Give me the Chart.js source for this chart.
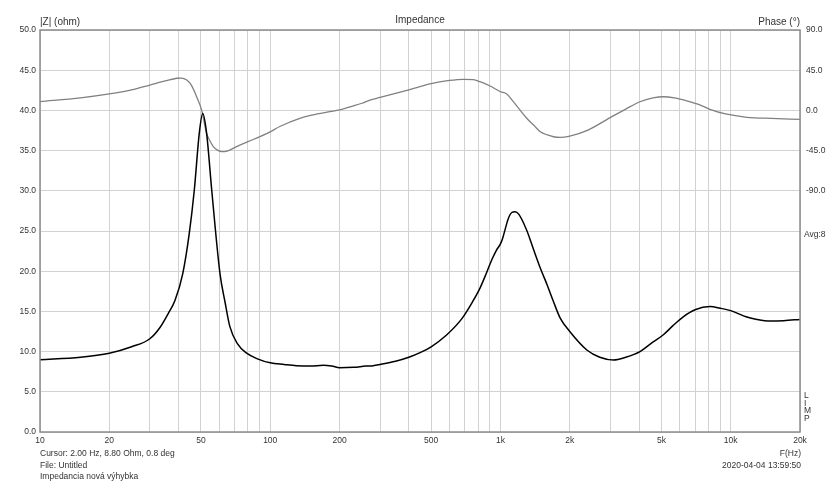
<!DOCTYPE html>
<html>
<head>
<meta charset="utf-8">
<script src="https://cdn.jsdelivr.net/npm/chart.js@4/dist/chart.umd.min.js"></script>
<style>
html,body{margin:0;padding:0;background:#fff;}
#c{display:block;}
</style>
</head>
<body>
<canvas id="c" width="840" height="483"></canvas>
<script>
// ---- data ----
const impFreq = [10,15,20,25,30,33.2,36,38.6,41.7,44.5,46.8,49.2,50.9,52.9,55.7,60.5,63.6,66.8,72,79,88,100,115,130,150,170,185,200,230,260,280,300,350,400,450,500,580,680,760,815,870,916,960,1000,1020,1050,1080,1120,1157,1200,1300,1400,1489,1600,1700,1815,2000,2372,2700,3093,3500,4037,4500,5100,5600,6200,7000,8130,9000,10000,11750,13000,14830,17000,20000];
const impOhm  = [9.0,9.3,9.8,10.6,11.6,13.0,14.7,16.4,19.7,24.7,30.1,37.2,39.6,37.2,30.1,19.7,16.2,13.1,11.0,9.8,9.1,8.6,8.4,8.25,8.2,8.3,8.2,8.0,8.05,8.2,8.25,8.4,8.8,9.3,9.9,10.6,12.0,14.1,16.3,17.9,19.8,21.4,22.6,23.4,24.0,25.3,26.5,27.3,27.4,27.1,25.1,22.5,20.4,18.2,16.2,14.2,12.5,10.2,9.3,8.96,9.3,10.0,11.0,12.1,13.2,14.3,15.2,15.6,15.4,15.1,14.3,14.0,13.8,13.85,14.0];

const phFreq = [10,15,20,25,30,35,39.3,41,43.4,45.5,47.9,50.4,52.9,54.7,56.6,59,61.5,65,71.4,80,90.2,100,110,134.5,160,182,200,230,250,271,300,350,400,494,600,690,763,815,902,1000,1065,1137,1300,1400,1489,1600,1700,1815,2000,2400,3045,3500,4037,4600,5100,5700,6500,7300,8130,9500,11750,15000,20000];
const phDeg  = [9.8,14,18.4,23,28.4,33,36,36.2,34,28,15.3,0,-25.6,-34,-40.6,-44.5,-46.2,-45.5,-40.6,-35,-29.4,-24,-18,-8.8,-4,-1.4,0.5,5,8,11.6,14.5,19,23,29.6,33.5,34.8,34.5,32.1,27.3,20.9,18.4,9.8,-8.8,-17,-23.8,-27.5,-29.5,-30.1,-28.7,-22,-7,1.5,9.7,14,15.3,14,10.5,6.5,1.2,-4,-7.7,-9,-10];

const gridFreqs = [10,20,30,40,50,60,70,80,90,100,200,300,400,500,600,700,800,900,1000,2000,3000,4000,5000,6000,7000,8000,9000,10000,20000];
const freqLabels = {10:'10',20:'20',50:'50',100:'100',200:'200',500:'500',1000:'1k',2000:'2k',5000:'5k',10000:'10k',20000:'20k'};

const FONT = '"Liberation Sans", Arial, sans-serif';
const TXT = '#333';

const textPlugin = {
  id: 'texts',
  afterDraw(chart) {
    const ctx = chart.ctx, a = chart.chartArea;
    ctx.save();
    ctx.strokeStyle = '#8c8c8c';
    ctx.lineWidth = 1.5;
    ctx.strokeRect(a.left, a.top, a.right - a.left, a.bottom - a.top);
    ctx.fillStyle = TXT;
    ctx.textBaseline = 'middle';
    ctx.font = '10px ' + FONT;
    ctx.textAlign = 'left';
    ctx.fillText('|Z| (ohm)', 40, 22);
    ctx.textAlign = 'center';
    ctx.fillText('Impedance', 420, 20);
    ctx.textAlign = 'right';
    ctx.fillText('Phase (°)', 800, 22);
    ctx.font = '8.5px ' + FONT;
    ctx.textAlign = 'left';
    ctx.fillText('Avg:8', 804, 235);
    ctx.fillText('Cursor: 2.00 Hz, 8.80 Ohm, 0.8 deg', 40, 454);
    ctx.fillText('File: Untitled', 40, 465.5);
    ctx.fillText('Impedancia nová výhybka', 40, 476.5);
    ctx.textAlign = 'right';
    ctx.fillText('F(Hz)', 801, 454);
    ctx.fillText('2020-04-04 13:59:50', 801, 466);
    ctx.textAlign = 'left';
    ['L','I','M','P'].forEach((ch, i) => ctx.fillText(ch, 804, 396 + i * 7.5));
    ctx.restore();
  }
};

new Chart(document.getElementById('c'), {
  type: 'line',
  data: {
    datasets: [
      {
        label: '|Z|',
        data: impFreq.map((f, i) => ({x: f, y: impOhm[i]})),
        yAxisID: 'y',
        borderColor: '#000',
        borderWidth: 1.5,
        pointRadius: 0,
        cubicInterpolationMode: 'monotone',
        fill: false
      },
      {
        label: 'Phase',
        data: phFreq.map((f, i) => ({x: f, y: phDeg[i]})),
        yAxisID: 'y1',
        borderColor: '#808080',
        borderWidth: 1.3,
        pointRadius: 0,
        cubicInterpolationMode: 'monotone',
        fill: false
      }
    ]
  },
  options: {
    responsive: false,
    animation: false,
    layout: {padding: {top: 30, left: 0, right: 0, bottom: 0}},
    plugins: {legend: {display: false}, tooltip: {enabled: false}, title: {display: false}},
    scales: {
      x: {
        type: 'logarithmic',
        min: 10, max: 20000,
        afterBuildTicks: s => { s.ticks = gridFreqs.map(v => ({value: v})); },
        afterFit: s => { s.height = 51; },
        grid: {color: '#d2d2d2', drawTicks: false, lineWidth: 1},
        border: {display: false},
        ticks: {
          autoSkip: false, maxRotation: 0, padding: 4,
          color: TXT, font: {family: FONT, size: 8.5},
          callback: v => freqLabels[v] || ''
        }
      },
      y: {
        position: 'left',
        min: 0, max: 50,
        afterFit: s => { s.width = 40; },
        grid: {color: '#d2d2d2', drawTicks: false},
        border: {display: false},
        ticks: {stepSize: 5, padding: 4, color: TXT, font: {family: FONT, size: 8.5},
          callback: v => Number(v).toFixed(1)}
      },
      y1: {
        position: 'right',
        min: -360, max: 90,
        afterFit: s => { s.width = 40; },
        grid: {display: false, drawTicks: false},
        border: {display: false},
        ticks: {stepSize: 45, padding: 6, color: TXT, font: {family: FONT, size: 8.5},
          callback: v => (v >= -90 ? Number(v).toFixed(1) : '')}
      }
    }
  },
  plugins: [textPlugin]
});
</script>
</body>
</html>
